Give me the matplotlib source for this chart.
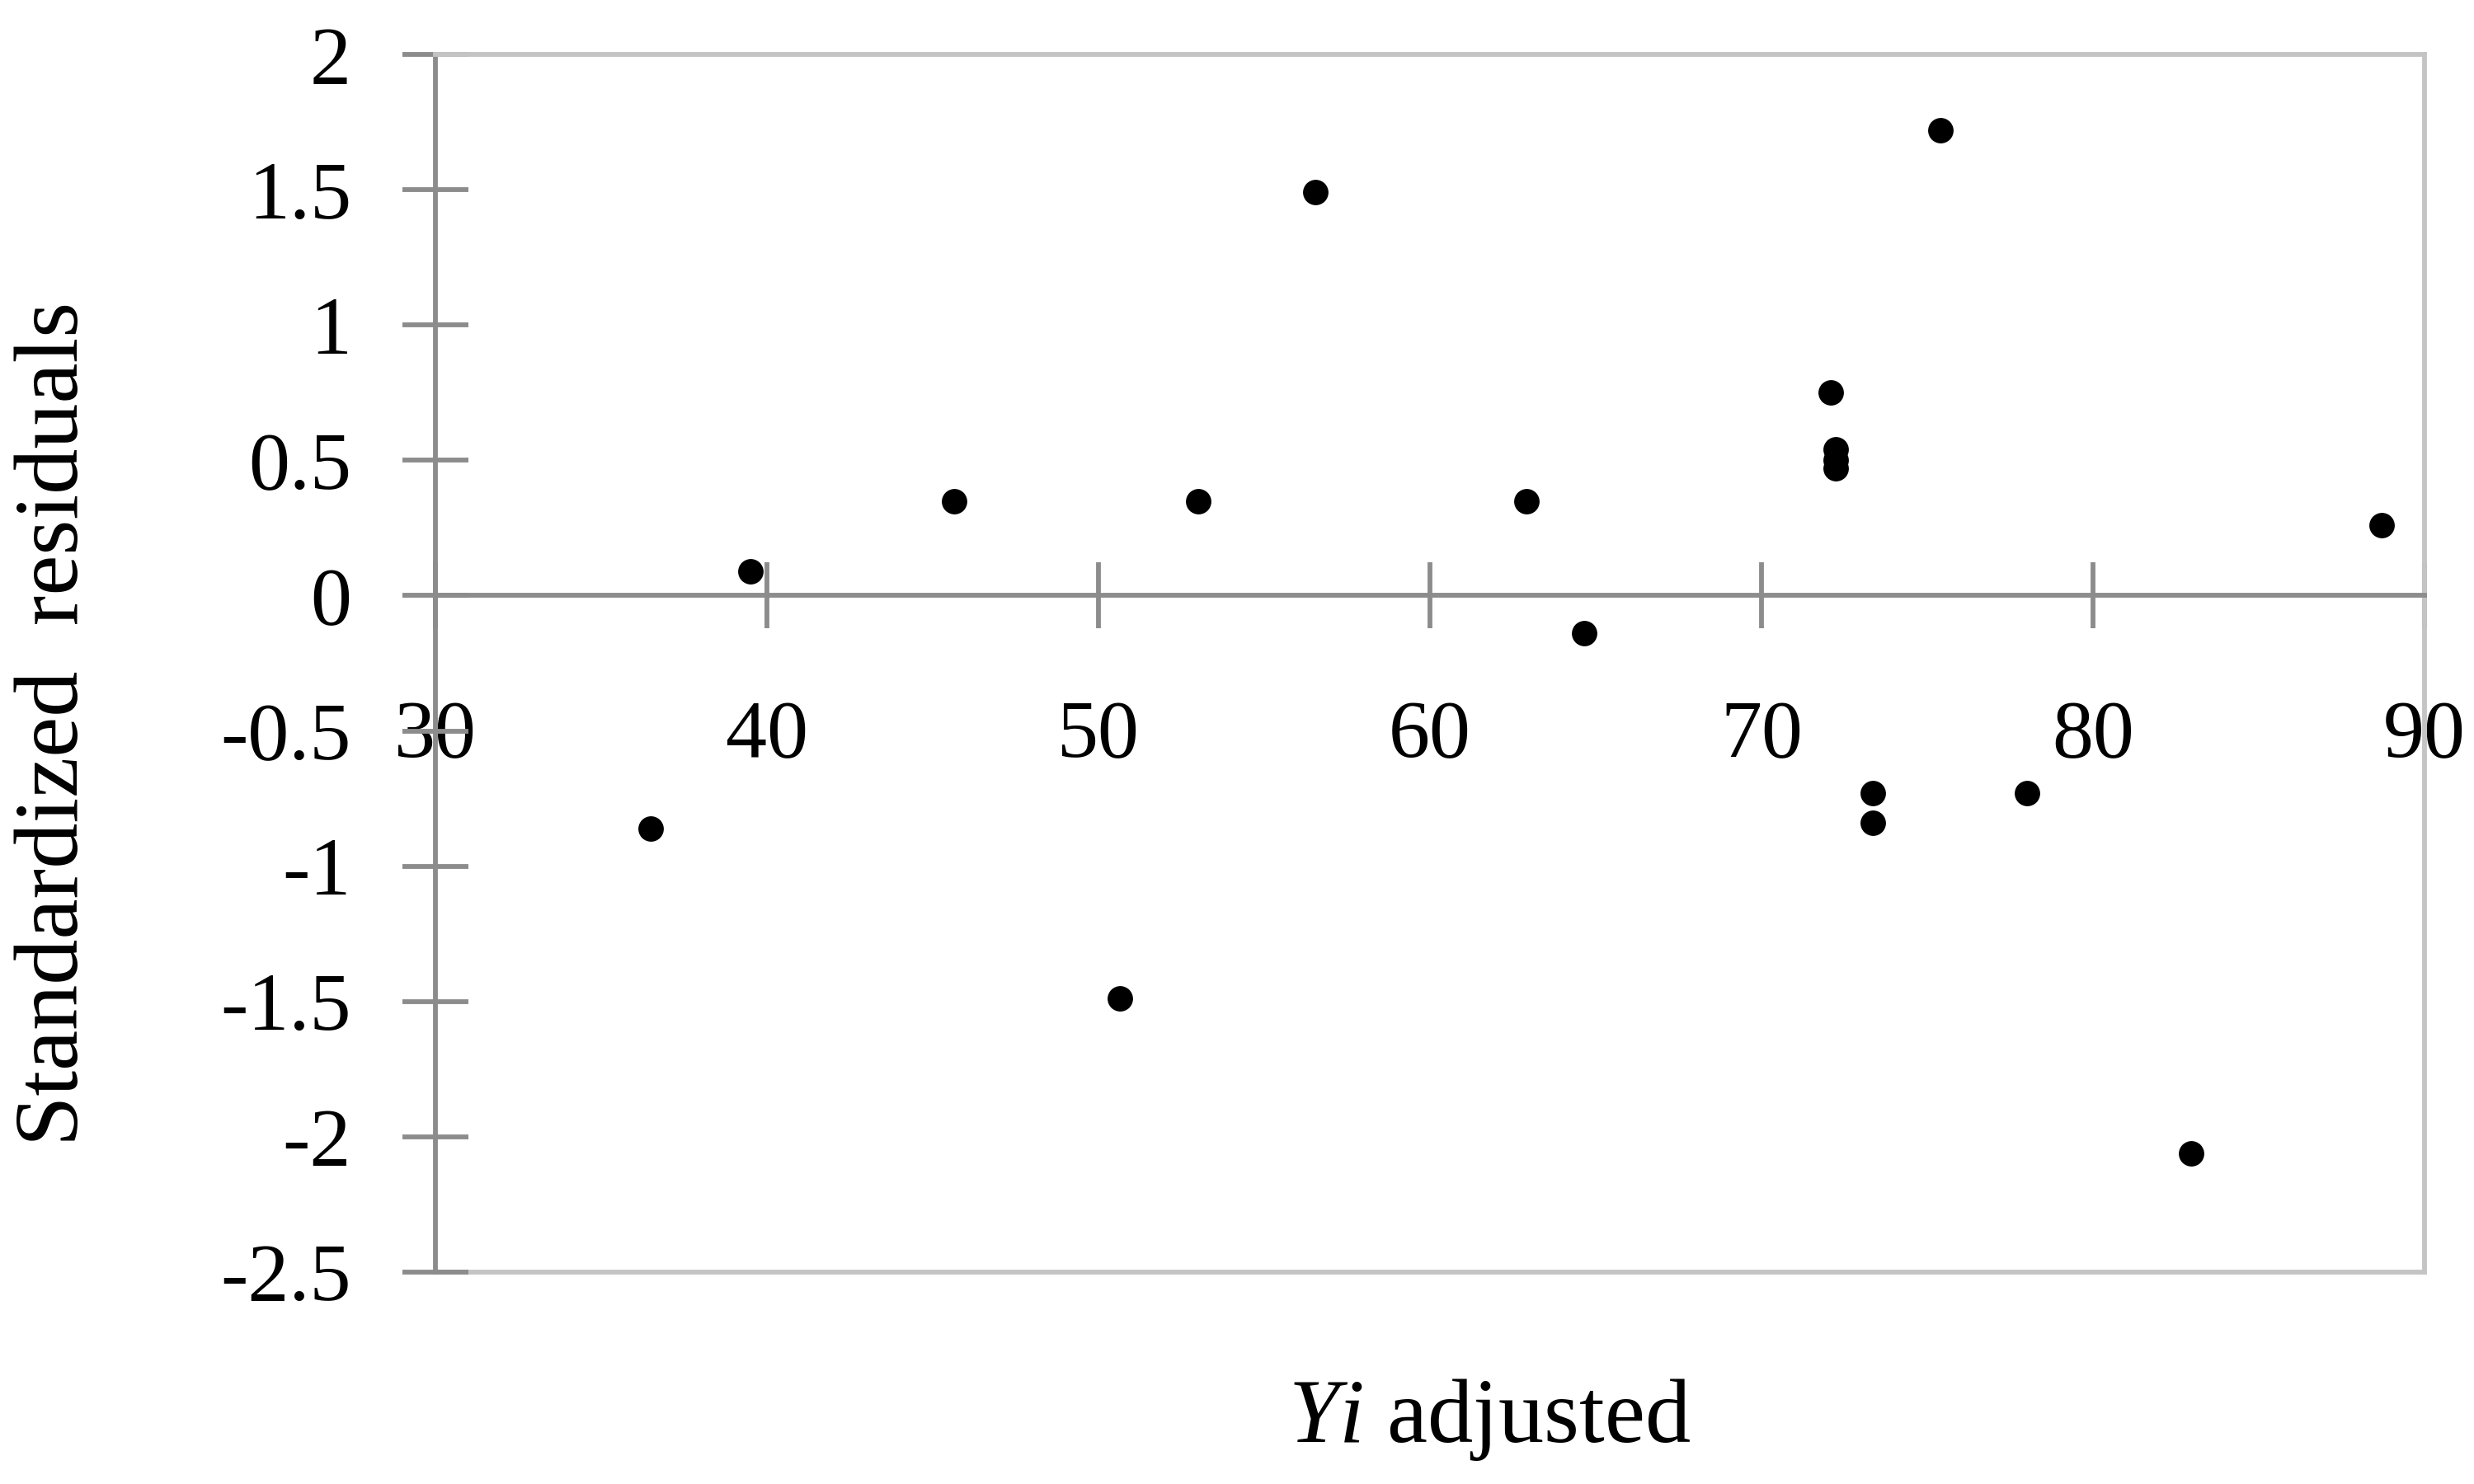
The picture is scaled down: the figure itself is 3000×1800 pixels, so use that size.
import matplotlib.pyplot as plt
import numpy as np

# values
y_adj = [36.5, 39.5, 45.65, 50.65, 53.0, 56.55, 62.9, 64.65, 72.1,
         72.25, 72.25, 72.25, 73.35, 73.35, 75.4, 78.0, 82.95, 88.7]
std_res = [-0.86, 0.09, 0.35, -1.49, 0.35, 1.49, 0.35, -0.14, 0.75,
           0.54, 0.50, 0.47, -0.73, -0.84, 1.72, -0.73, -2.06, 0.26]

xticks = [30, 40, 50, 60, 70, 80, 90]
yticks = [2, 1.5, 1, 0.5, 0, -0.5, -1, -1.5, -2, -2.5]
ytick_labels = ['2', '1.5', '1', '0.5', '0', '-0.5', '-1', '-1.5', '-2', '-2.5']

plt.rcParams['font.family'] = ['Liberation Serif', 'DejaVu Serif']
plt.rcParams['mathtext.fontset'] = 'custom'
plt.rcParams['mathtext.it'] = 'Liberation Serif:italic'
plt.rcParams['mathtext.rm'] = 'Liberation Serif'

dark = '#8c8c8c'
light = '#c4c4c4'

fig = plt.figure(figsize=(10, 6), dpi=300)
ax = fig.add_axes([0.176, 0.1428, 0.804, 0.8205])

ax.plot(y_adj, std_res, 'o', color='black', ms=7.4, mew=0, zorder=3)

ax.set_xlim(30, 90)
ax.set_ylim(-2.5, 2)

# zero line carries the x axis
ax.spines['bottom'].set_position(('data', 0))
ax.spines['bottom'].set_color(dark)
ax.spines['left'].set_color(dark)
ax.spines['top'].set_color(light)
ax.spines['right'].set_color(light)
for s in ax.spines.values():
    s.set_linewidth(1.4)
ax.axhline(-2.5, color=light, lw=1.4, clip_on=False, zorder=1)

ax.set_xticks(xticks)
ax.set_yticks(yticks)
ax.set_yticklabels(ytick_labels)
ax.tick_params(axis='both', direction='inout', length=19, width=1.4,
               color=dark, labelsize=24, labelcolor='black')
ax.tick_params(axis='x', pad=21)
ax.tick_params(axis='y', pad=15)

ax.set_ylabel('Standardized  residuals', fontsize=26.5, va='center')
ax.yaxis.set_label_coords(-0.191, 0.45)
ax.set_xlabel(r'$\mathit{Yi}$ adjusted', fontsize=26.5, va='center')
ax.xaxis.set_label_coords(0.53, -0.121)

plt.savefig('out.png', dpi=300)
